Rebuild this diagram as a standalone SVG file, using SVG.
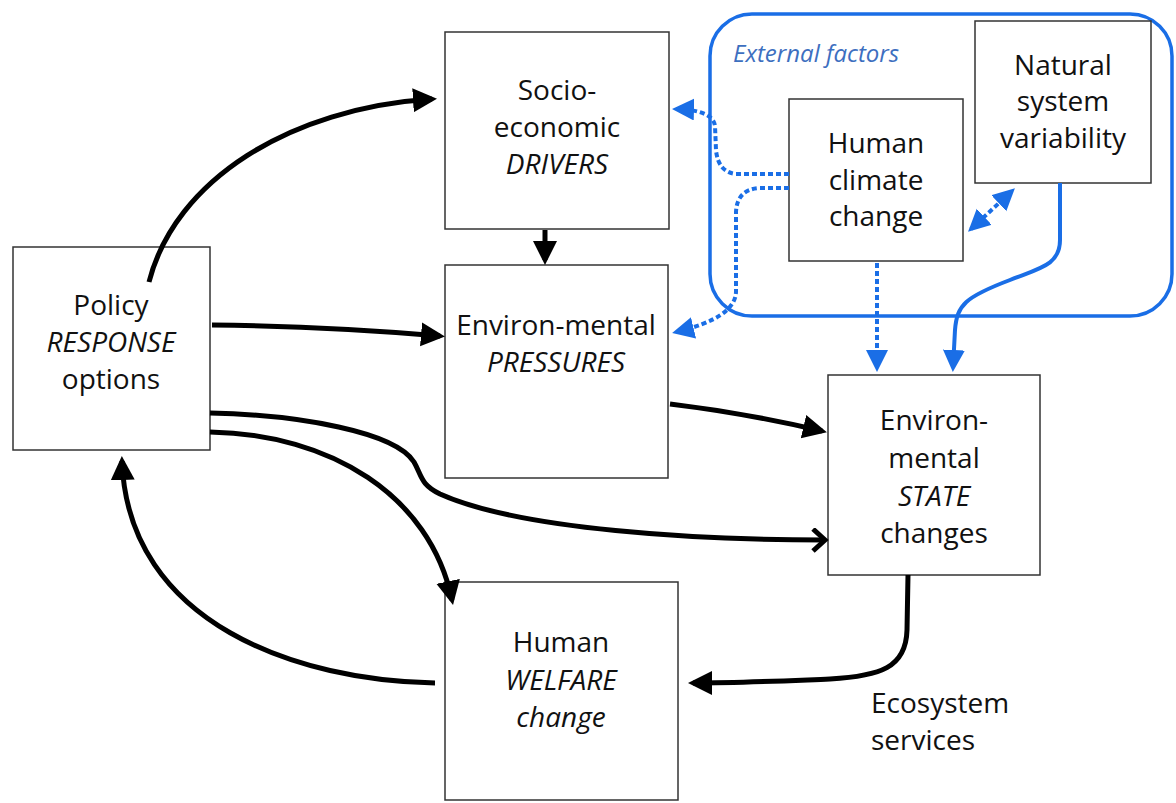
<svg xmlns="http://www.w3.org/2000/svg" width="1176" height="803" viewBox="0 0 1176 803">
<defs>
<style>
.box{fill:#fff;stroke:#333;stroke-width:1.5}
.t{font-family:"Open Sans","Liberation Sans",sans-serif;font-size:28px;fill:#111;text-anchor:middle}
.i{font-style:italic}
.k{fill:none;stroke:#000;stroke-width:5}
.b{fill:none;stroke:#1a6ee6;stroke-width:4}
.d{stroke-dasharray:5 3}
</style>
<marker id="ah" markerUnits="userSpaceOnUse" markerWidth="26" markerHeight="26" refX="19" refY="12" orient="auto">
<path d="M0,0 L24,12 L0,24 z" fill="#000"/>
</marker>
<marker id="ao" markerUnits="userSpaceOnUse" markerWidth="20" markerHeight="26" refX="13" refY="12" orient="auto">
<path d="M2,1 L14,12 L2,23" fill="none" stroke="#000" stroke-width="5"/>
</marker>
<marker id="bh" markerUnits="userSpaceOnUse" markerWidth="24" markerHeight="24" refX="18" refY="11" orient="auto-start-reverse">
<path d="M0,0 L22,11 L0,22 z" fill="#1a6ee6"/>
</marker>
</defs>
<rect width="1176" height="803" fill="#fff"/>

<g id="external">
<rect x="710" y="14" width="462" height="302" rx="42" fill="none" stroke="#1a6ee6" stroke-width="3.5"/>
<text x="733" y="62" font-family="Open Sans, Liberation Sans, sans-serif" font-size="24" font-style="italic" fill="#3d6fbf">External factors</text>
</g>

<g id="policy">
<rect class="box" x="13" y="247" width="197" height="203"/>
<text class="t" x="111" y="315">Policy</text>
<text class="t i" x="111" y="352">RESPONSE</text>
<text class="t" x="111" y="389">options</text>
</g>

<g id="drivers">
<rect class="box" x="445" y="32" width="224" height="197"/>
<text class="t" x="557" y="100">Socio-</text>
<text class="t" x="557" y="137">economic</text>
<text class="t i" x="557" y="174">DRIVERS</text>
</g>

<g id="pressures">
<rect class="box" x="445" y="265" width="223" height="213"/>
<text class="t" x="556" y="335">Environ-mental</text>
<text class="t i" x="556" y="372">PRESSURES</text>
</g>

<g id="human-climate">
<rect class="box" x="789" y="99" width="174" height="162"/>
<text class="t" x="876" y="153">Human</text>
<text class="t" x="876" y="190">climate</text>
<text class="t" x="876" y="226">change</text>
</g>

<g id="natural">
<rect class="box" x="975" y="21" width="176" height="162"/>
<text class="t" x="1063" y="75">Natural</text>
<text class="t" x="1063" y="111">system</text>
<text class="t" x="1063" y="148">variability</text>
</g>

<g id="state">
<rect class="box" x="828" y="375" width="212" height="200"/>
<text class="t" x="934" y="430">Environ-</text>
<text class="t" x="934" y="468">mental</text>
<text class="t i" x="934" y="506">STATE</text>
<text class="t" x="934" y="543">changes</text>
</g>

<g id="welfare">
<rect class="box" x="445" y="582" width="233" height="218"/>
<text class="t" x="561" y="652">Human</text>
<text class="t i" x="561" y="690">WELFARE</text>
<text class="t i" x="561" y="727">change</text>
</g>

<g id="ecosystem-label">
<text class="t" x="871" y="713" style="text-anchor:start">Ecosystem</text>
<text class="t" x="871" y="750" style="text-anchor:start">services</text>
</g>

<g id="connectors">
<path class="k" marker-end="url(#ah)" d="M149,282 C175,180 290,108 432,99"/>
<path class="k" marker-end="url(#ah)" d="M545,230 L545,260"/>
<path class="k" marker-end="url(#ah)" d="M212,325 C300,326 370,330 440,336"/>
<path class="k" marker-end="url(#ah)" d="M670,404 C720,410 775,420 822,431"/>
<path class="k" marker-end="url(#ao)" d="M210,413 C300,415 395,432 414,462 C422,476 420,484 440,494 C520,530 700,540 824,540"/>
<path class="k" marker-end="url(#ah)" d="M210,432 C330,434 430,495 452,600"/>
<path class="k" marker-end="url(#ah)" d="M435,683 C300,681 128,625 122,461"/>
<path class="k" marker-end="url(#ah)" d="M908,575 L907,630 C906,668 880,676 830,679 C780,681 740,683 693,683"/>
<path class="b d" marker-end="url(#bh)" d="M789,174 L736,174 Q718,172 716,150 L715,126 Q713,110 676,109"/>
<path class="b d" marker-end="url(#bh)" d="M789,188 L760,188 Q737,189 736,212 L736,292 Q735,318 676,332"/>
<path class="b d" marker-end="url(#bh)" d="M877,263 L877,368"/>
<path class="b d" marker-start="url(#bh)" marker-end="url(#bh)" d="M971,229 L1012,191"/>
<path class="b" marker-end="url(#bh)" d="M1060,183 L1060,240 C1060,265 1040,268 1010,280 C965,297 957,305 955,330 L953,368"/>
</g>
</svg>
